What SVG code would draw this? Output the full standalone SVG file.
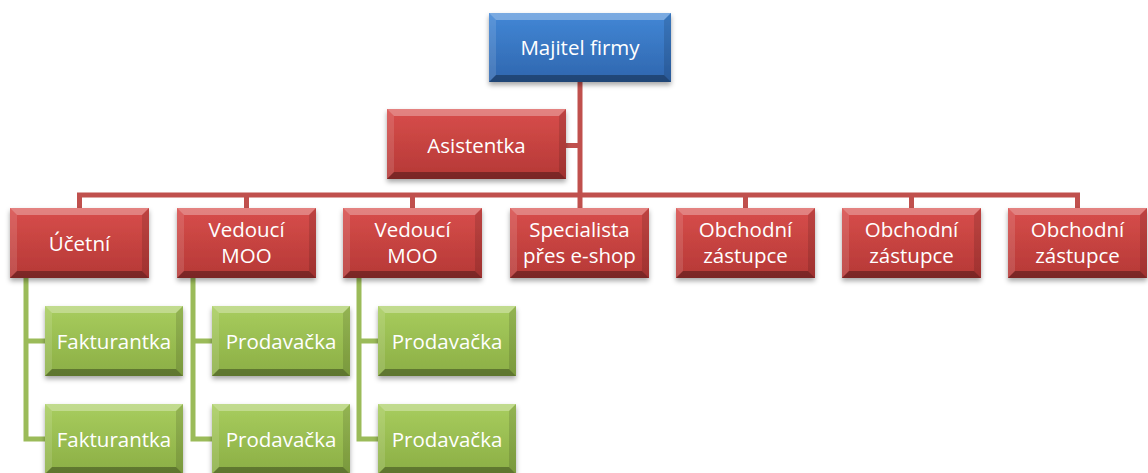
<svg xmlns="http://www.w3.org/2000/svg" xmlns:xlink="http://www.w3.org/1999/xlink" width="1148" height="473" viewBox="0 0 1148 473">
<style>
.t{font-family:"Open Sans","Liberation Sans",sans-serif;font-size:20.5px;fill:#ffffff;text-anchor:middle}
.cr{fill:none;stroke:#C0504D;stroke-width:5}
.cg{fill:none;stroke:#9BBB59;stroke-width:5}
.hl{fill:#ffffff;fill-opacity:0.3}
.hl2{fill:#ffffff;fill-opacity:0.12}
.sd{fill:#000000;fill-opacity:0.12}
.sd2{fill:#000000;fill-opacity:0.32}
</style>
<defs>
<linearGradient id="gBlue" x1="0" y1="0" x2="0" y2="1">
<stop offset="0" stop-color="#4287D6"/><stop offset="1" stop-color="#2F66AE"/>
</linearGradient>
<linearGradient id="gRed" x1="0" y1="0" x2="0" y2="1">
<stop offset="0" stop-color="#D84E4B"/><stop offset="1" stop-color="#B53836"/>
</linearGradient>
<linearGradient id="gGreen" x1="0" y1="0" x2="0" y2="1">
<stop offset="0" stop-color="#A8CD5E"/><stop offset="1" stop-color="#8BAE45"/>
</linearGradient>
<filter id="sh" x="-10%" y="-20%" width="120%" height="150%">
<feDropShadow dx="0" dy="3" stdDeviation="2.5" flood-color="#000" flood-opacity="0.35"/>
</filter>
<g id="bBlue">
<rect width="182" height="69" fill="url(#gBlue)" filter="url(#sh)"/>
<path class="hl" d="M0,0H182L175,7H7Z"/>
<path class="hl2" d="M0,0L7,7V62L0,69Z"/>
<path class="sd" d="M182,0V69L175,62V7Z"/>
<path class="sd2" d="M0,69H182L175,62H7Z"/>
</g>
<g id="bRedW">
<rect width="179" height="70" fill="url(#gRed)" filter="url(#sh)"/>
<path class="hl" d="M0,0H179L172,7H7Z"/>
<path class="hl2" d="M0,0L7,7V63L0,70Z"/>
<path class="sd" d="M179,0V70L172,63V7Z"/>
<path class="sd2" d="M0,70H179L172,63H7Z"/>
</g>
<g id="bRed">
<rect width="139" height="70" fill="url(#gRed)" filter="url(#sh)"/>
<path class="hl" d="M0,0H139L132,7H7Z"/>
<path class="hl2" d="M0,0L7,7V63L0,70Z"/>
<path class="sd" d="M139,0V70L132,63V7Z"/>
<path class="sd2" d="M0,70H139L132,63H7Z"/>
</g>
<g id="bGreen">
<rect width="138" height="70" fill="url(#gGreen)" filter="url(#sh)"/>
<path class="hl" d="M0,0H138L131,7H7Z"/>
<path class="hl2" d="M0,0L7,7V63L0,70Z"/>
<path class="sd" d="M138,0V70L131,63V7Z"/>
<path class="sd2" d="M0,70H138L131,63H7Z"/>
</g>
</defs>
<rect width="1148" height="473" fill="#ffffff"/>
<g id="connectors">
<path class="cr" d="M580,82V208"/>
<path class="cr" d="M566,145.5H580"/>
<path class="cr" d="M79.5,208V195H1077.5V208"/>
<path class="cr" d="M246.5,195V208M412.5,195V208M745.5,195V208M911.5,195V208"/>
<path class="cg" d="M26,278V439H45M26,341H45"/>
<path class="cg" d="M193,278V439H212M193,341H212"/>
<path class="cg" d="M359,278V439H378M359,341H378"/>
</g>
<g id="n-majitel"><use xlink:href="#bBlue" x="489" y="13"/><text class="t" x="580" y="55">Majitel firmy</text></g>
<g id="n-asistentka"><use xlink:href="#bRedW" x="387" y="109"/><text class="t" x="476.5" y="153">Asistentka</text></g>
<g id="n-ucetni"><use xlink:href="#bRed" x="10" y="208"/><text class="t" x="79.5" y="251">Účetní</text></g>
<g id="n-vedouci1"><use xlink:href="#bRed" x="177" y="208"/><text class="t" x="246.5" y="237">Vedoucí</text><text class="t" x="246.5" y="263">MOO</text></g>
<g id="n-vedouci2"><use xlink:href="#bRed" x="343" y="208"/><text class="t" x="412.5" y="237">Vedoucí</text><text class="t" x="412.5" y="263">MOO</text></g>
<g id="n-specialista"><use xlink:href="#bRed" x="510" y="208"/><text class="t" x="579.5" y="237">Specialista</text><text class="t" x="579.5" y="263">přes e-shop</text></g>
<g id="n-obchodni1"><use xlink:href="#bRed" x="676" y="208"/><text class="t" x="745.5" y="237">Obchodní</text><text class="t" x="745.5" y="263">zástupce</text></g>
<g id="n-obchodni2"><use xlink:href="#bRed" x="842" y="208"/><text class="t" x="911.5" y="237">Obchodní</text><text class="t" x="911.5" y="263">zástupce</text></g>
<g id="n-obchodni3"><use xlink:href="#bRed" x="1008" y="208"/><text class="t" x="1077.5" y="237">Obchodní</text><text class="t" x="1077.5" y="263">zástupce</text></g>
<g id="n-fakt1"><use xlink:href="#bGreen" x="45" y="306"/><text class="t" x="114" y="349">Fakturantka</text></g>
<g id="n-fakt2"><use xlink:href="#bGreen" x="45" y="404"/><text class="t" x="114" y="447">Fakturantka</text></g>
<g id="n-prod1"><use xlink:href="#bGreen" x="212" y="306"/><text class="t" x="281" y="349">Prodavačka</text></g>
<g id="n-prod2"><use xlink:href="#bGreen" x="212" y="404"/><text class="t" x="281" y="447">Prodavačka</text></g>
<g id="n-prod3"><use xlink:href="#bGreen" x="378" y="306"/><text class="t" x="447" y="349">Prodavačka</text></g>
<g id="n-prod4"><use xlink:href="#bGreen" x="378" y="404"/><text class="t" x="447" y="447">Prodavačka</text></g>
</svg>
